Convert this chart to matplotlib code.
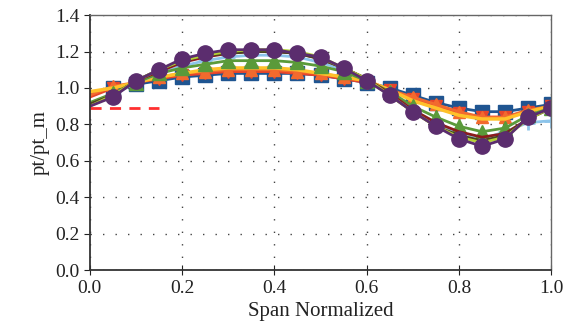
import numpy as np
import matplotlib.pyplot as plt

plt.rcParams['font.family'] = ['Liberation Serif', 'DejaVu Serif']

# span positions
span = [0.0, 0.05, 0.1, 0.15, 0.2, 0.25, 0.3, 0.35, 0.4, 0.45, 0.5,
        0.55, 0.6, 0.65, 0.7, 0.75, 0.8, 0.85, 0.9, 0.95, 1.0]

blue_sq = [0.97, 1.00, 1.02, 1.04, 1.06, 1.07, 1.08, 1.08, 1.08, 1.08, 1.07,
           1.05, 1.03, 1.00, 0.96, 0.92, 0.89, 0.87, 0.87, 0.89, 0.91]
orange_up = [0.96, 1.01, 1.03, 1.06, 1.08, 1.09, 1.10, 1.10, 1.10, 1.09, 1.08,
             1.06, 1.04, 0.99, 0.95, 0.91, 0.87, 0.84, 0.84, 0.88, 0.90]
red_down = [0.95, 1.00, 1.03, 1.05, 1.07, 1.08, 1.09, 1.09, 1.09, 1.08, 1.07,
            1.05, 1.03, 0.99, 0.94, 0.90, 0.86, 0.84, 0.84, 0.87, 0.90]
yellow = [0.98, 1.00, 1.03, 1.06, 1.08, 1.10, 1.11, 1.11, 1.11, 1.10, 1.08,
          1.06, 1.04, 0.99, 0.93, 0.89, 0.85, 0.83, 0.83, 0.87, 0.90]
green_tri = [0.92, 0.97, 1.03, 1.08, 1.11, 1.13, 1.15, 1.15, 1.15, 1.14, 1.12,
             1.09, 1.04, 0.98, 0.90, 0.84, 0.79, 0.76, 0.78, 0.85, 0.89]
light_blue = [0.91, 0.96, 1.03, 1.08, 1.12, 1.15, 1.17, 1.18, 1.18, 1.17, 1.14,
              1.10, 1.04, 0.97, 0.88, 0.81, 0.75, 0.72, 0.76, 0.81, 0.82]
dark_red = [0.91, 0.96, 1.04, 1.09, 1.14, 1.17, 1.19, 1.20, 1.20, 1.19, 1.16,
            1.11, 1.05, 0.97, 0.88, 0.81, 0.76, 0.73, 0.75, 0.83, 0.89]
dark_olive = [0.91, 0.96, 1.04, 1.10, 1.15, 1.18, 1.19, 1.20, 1.20, 1.19, 1.16,
              1.11, 1.05, 0.96, 0.87, 0.79, 0.74, 0.71, 0.74, 0.83, 0.89]
lime_x = [0.90, 0.96, 1.04, 1.10, 1.15, 1.18, 1.20, 1.21, 1.21, 1.20, 1.17,
          1.11, 1.05, 0.96, 0.87, 0.79, 0.73, 0.70, 0.73, 0.83, 0.89]
purple = [0.90, 0.95, 1.04, 1.10, 1.16, 1.19, 1.21, 1.21, 1.21, 1.19, 1.17,
          1.11, 1.04, 0.96, 0.87, 0.79, 0.72, 0.68, 0.72, 0.84, 0.89]

ref_x = [0.0, 0.15]
ref_y = [0.89, 0.89]

fig = plt.figure(figsize=(5.76, 3.36), dpi=100)
ax = fig.add_axes([0.156, 0.196, 0.801, 0.759])

mk = slice(1, None)
ax.plot(span, blue_sq, color='#1f5591', lw=2, marker='s', ms=10, markevery=mk)
ax.plot(span, red_down, color='#e8452a', lw=2, marker='v', ms=9, markevery=mk)
ax.plot(span, orange_up, color='#f26a2e', lw=2, marker='^', ms=9, markevery=mk)
ax.plot(span, yellow, color='#ffc12a', lw=2.5)
ax.plot(span, light_blue, color='#8cc4ea', lw=2, marker='+', ms=10, mew=2, markevery=mk)
ax.plot(span, green_tri, color='#5a9a3a', lw=2, marker='^', ms=10, markevery=mk)
ax.plot(span, dark_red, color='#8b1c1c', lw=2)
ax.plot(span, dark_olive, color='#4a4420', lw=2)
ax.plot(span, lime_x, color='#b4d234', lw=2, marker='x', ms=6, mew=2, markevery=mk)
ax.plot(span, purple, color='#5b2d6e', lw=2, marker='o', ms=11, markevery=mk)
ax.plot(ref_x, ref_y, color='#ff3030', lw=2, ls=(0, (4, 3)), clip_on=False)

ax.set_xlim(0, 1.0)
ax.set_ylim(0, 1.4)
ax.set_xticks(np.arange(0, 1.01, 0.2))
ax.set_yticks(np.arange(0, 1.41, 0.2))
ax.xaxis.set_major_formatter(plt.FormatStrFormatter('%.1f'))
ax.yaxis.set_major_formatter(plt.FormatStrFormatter('%.1f'))
ax.grid(True, color='#444444', ls=(0, (1, 8)), lw=1.0)
ax.tick_params(axis='x', direction='inout', length=7, labelsize=14, colors='#222222')
ax.tick_params(axis='y', direction='out', length=4, labelsize=14, colors='#222222')
for s in ['left', 'bottom']:
    ax.spines[s].set_color('#333333')
    ax.spines[s].set_linewidth(1.3)
for s in ['top', 'right']:
    ax.spines[s].set_color('#666666')
    ax.spines[s].set_linewidth(1.0)

ax.set_xlabel('Span Normalized', fontsize=15, color='#222222')
ax.set_ylabel('pt/pt_m', fontsize=15, color='#222222')

fig.savefig('out.png', dpi=100)
